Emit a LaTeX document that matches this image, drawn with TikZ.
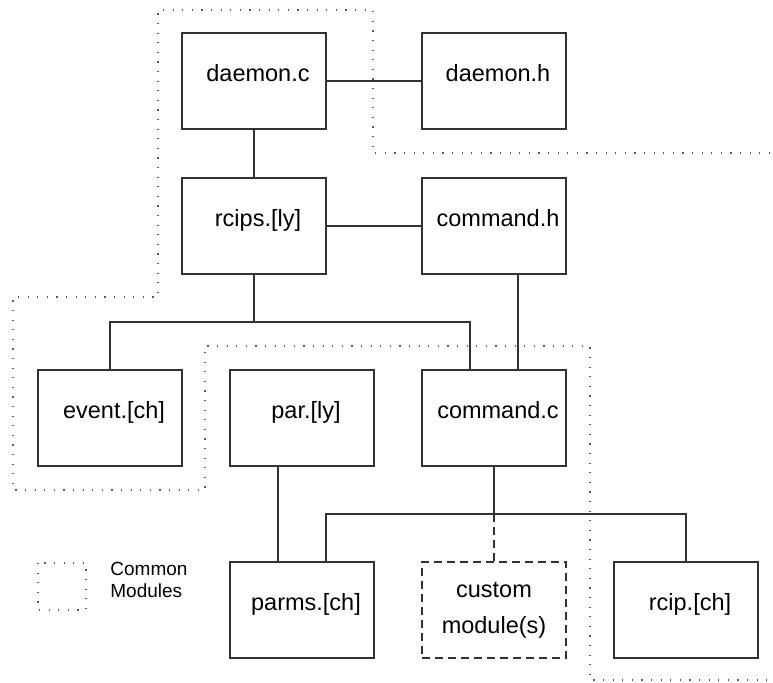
\documentclass[tikz,border=0pt]{standalone}
\usepackage{fontspec}
\setmainfont{Liberation Sans}
\begin{document}
\begin{tikzpicture}[x=0.5pt,y=-0.5pt,
  wire/.style={draw=black!80, line width=0.6pt},
  module/.style={draw=black!80, line width=0.6pt, minimum width=72pt, minimum height=48pt, inner sep=0pt},
  modname/.style={font=\fontsize{11.75}{14}\selectfont, text height=8.5pt, text depth=5.5pt, inner sep=0pt},
  custombox/.style={module, dash pattern=on 4pt off 2.5pt},
  commonline/.style={draw=black!65, line width=0.6pt, dash pattern=on 0.6pt off 4.2pt},
  legendtext/.style={font=\fontsize{9.5}{11}\selectfont, inner sep=0pt, anchor=base west}]
\useasboundingbox (0,0) rectangle (773,682);

% module boxes
\node[module, label={[modname, shift={(2pt,1.5pt)}]center:daemon.c}] (daemonc) at (254,81) {};
\node[module, label={[modname, shift={(2pt,1.5pt)}]center:daemon.h}] (daemonh) at (494,81) {};
\node[module, label={[modname, shift={(2pt,1.5pt)}]center:rcips.[ly]}] (rcips) at (254,226) {};
\node[module, label={[modname, shift={(2pt,1.5pt)}]center:command.h}] (commandh) at (494,226) {};
\node[module, label={[modname, shift={(2pt,1.5pt)}]center:event.[ch]}] (event) at (110,418) {};
\node[module, label={[modname, shift={(2pt,1.5pt)}]center:par.[ly]}] (par) at (302,418) {};
\node[module, label={[modname, shift={(2pt,1.5pt)}]center:command.c}] (commandc) at (494,418) {};
\node[module, label={[modname, shift={(2pt,1.5pt)}]center:parms.[ch]}] (parms) at (302,610) {};
\node[custombox, label={[font=\fontsize{11.75}{18}\selectfont, align=center, inner sep=0pt]center:custom\\module(s)}] (custom) at (494,610) {};
\node[module, label={[modname, shift={(2pt,1.5pt)}]center:rcip.[ch]}] (rcip) at (686,610) {};

% connectors
\coordinate (busA) at (254,322);
\coordinate (busB) at (494,514);
\draw[wire] (daemonc.east) -- (daemonh.west);
\draw[wire] (daemonc.south) -- (rcips.north);
\draw[wire] (rcips.east) -- (commandh.west);
\draw[wire] (rcips.south) -- (busA);
\draw[wire] (event.north) |- (busA) -| ([xshift=-12pt]commandc.north);
\draw[wire] ([xshift=12pt]commandh.south) -- ([xshift=12pt]commandc.north);
\draw[wire] ([xshift=-12pt]par.south) -- ([xshift=-12pt]parms.north);
\draw[wire] (commandc.south) -- (busB);
\draw[wire] ([xshift=12pt]parms.north) |- (busB) -| (rcip.north);
\draw[wire, dash pattern=on 4pt off 2.5pt] (busB) -- (custom.north);

% boundary of the common modules
\draw[commonline] (770,153) -- (373,153) -- (373,10) -- (158,10) -- (158,297)
  -- (13,297) -- (13,490) -- (205,490) -- (205,346) -- (590,346) -- (590,680) -- (770,680);

% legend
\draw[commonline] (38,563) rectangle (86,610);
\node[legendtext] (legendA) at (110,575) {Common};
\node[legendtext] (legendB) at (110,597) {Modules};
\end{tikzpicture}
\end{document}
